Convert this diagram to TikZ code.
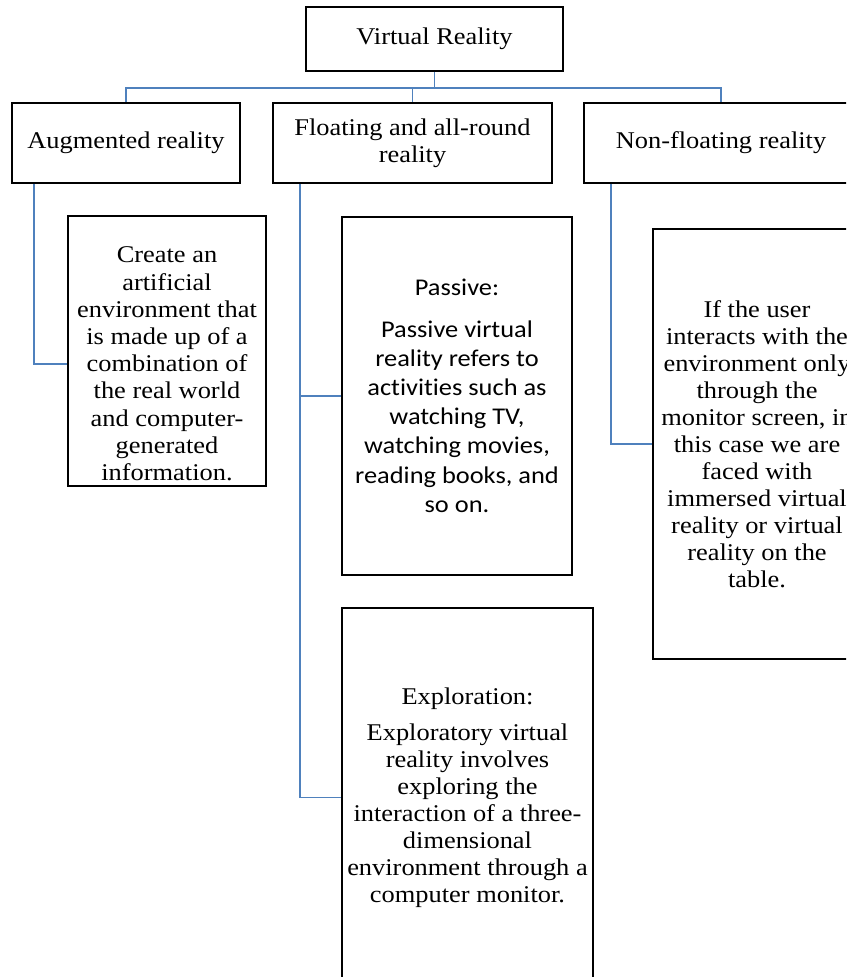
\documentclass[tikz,border=0pt]{standalone}
\usepackage{fontspec}
\setmainfont{Liberation Serif}[FakeStretch=1.1]
\newfontfamily\calfont{Carlito}[FakeStretch=1.1, Ligatures=NoCommon]
\definecolor{connblue}{HTML}{4F81BD}
\begin{document}
\begin{tikzpicture}[x=0.5pt,y=-0.5pt,
  box/.style={draw=black, line width=1pt, rectangle, inner sep=0pt, align=center,
    font=\fontsize{12pt}{13.5pt}\selectfont},
  conn/.style={draw=connblue, line width=0.9pt}]
\useasboundingbox (0,0) rectangle (846,977);
\clip (0,0) rectangle (846,977);
% top level
\node[box, minimum width=128.5pt, minimum height=32pt] (vr) at (434.5,39) {Virtual Reality};
% second level
\node[box, minimum width=114pt, minimum height=40pt] (aug) at (126,143) {Augmented reality};
\node[box, minimum width=139.5pt, minimum height=40pt] (float) at (412.5,143) {Floating and all-round\\reality};
\node[box, minimum width=137pt, minimum height=40pt] (nonf) at (721,143) {Non-floating reality};
% third level
\node[box, minimum width=99pt, minimum height=135pt,
  label={[align=center, font=\fontsize{12pt}{13.6pt}\selectfont, yshift=-6.5pt]center:{Create an\\artificial\\environment that\\is made up of a\\combination of\\the real world\\and computer-\\generated\\information.}}] (create) at (167,351) {};
\node[box, minimum width=115pt, minimum height=179pt,
  font=\calfont\fontsize{12pt}{14.6pt}\selectfont] (passive) at (457,396)
  {Passive:\\[6pt]Passive virtual\\reality refers to\\activities such as\\watching TV,\\watching movies,\\reading books, and\\so on.};
\node[box, minimum width=125.5pt, minimum height=189.5pt] (explore) at (467.5,797.5)
  {Exploration:\\[4.5pt]Exploratory virtual\\reality involves\\exploring the\\interaction of a three-\\dimensional\\environment through a\\computer monitor.};
\node[box, minimum width=104pt, minimum height=215pt] (immerse) at (757,444)
  {If the user\\interacts with the\\environment only\\through the\\monitor screen, in\\this case we are\\faced with\\immersed virtual\\reality or virtual\\reality on the\\table.};
% connectors
\draw[conn] (vr.south) -- ++(0,16) coordinate (bus) -| (aug.north);
\draw[conn] (bus) -| (float.north);
\draw[conn] (bus) -| (nonf.north);
\draw[conn] ([xshift=11.5pt]aug.south west) |- ([yshift=-6.5pt]create.west);
\draw[conn] ([xshift=14pt]float.south west) |- (passive.west);
\draw[conn] ([xshift=14pt]float.south west) |- (explore.west);
\draw[conn] ([xshift=14pt]nonf.south west) |- (immerse.west);
\end{tikzpicture}
\end{document}
